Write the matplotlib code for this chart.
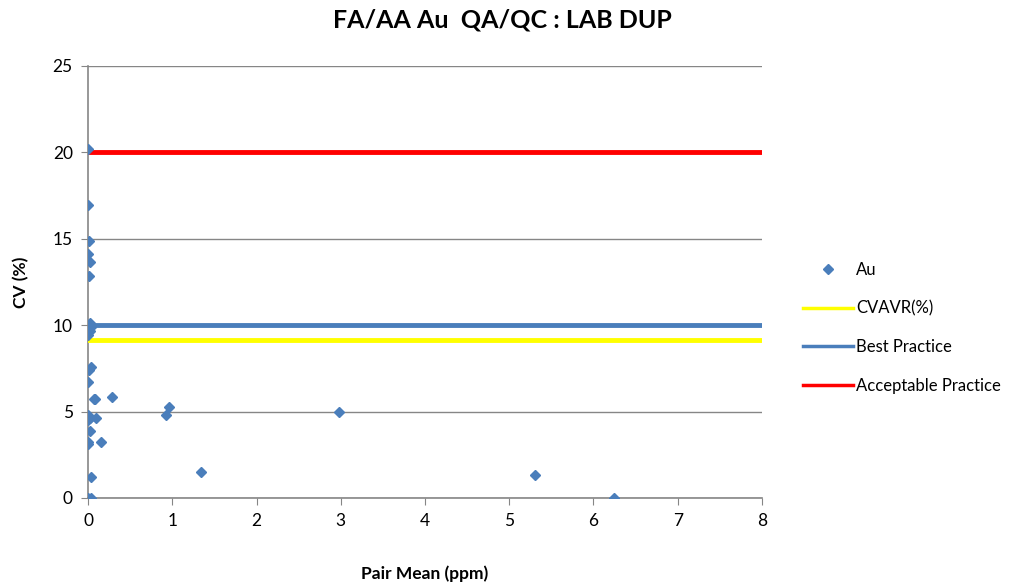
import matplotlib
matplotlib.use("Agg")
import matplotlib.pyplot as plt
from matplotlib.lines import Line2D

pair_mean = [0.00, 0.00, 0.01, 0.00, 0.02, 0.01, 0.02, 0.03, 0.02, 0.00,
             0.04, 0.01, 0.00, 0.08, 0.07, 0.28, 0.00, 0.02, 0.10, 0.00,
             0.02, 0.00, 0.00, 0.16, 0.04, 0.00, 0.04, 0.93, 0.965, 1.34,
             2.98, 5.31, 6.24]
cv_pct = [20.2, 16.97, 14.87, 14.14, 13.68, 12.85, 10.15, 9.92, 9.68, 9.43,
          7.56, 7.41, 6.71, 5.73, 5.75, 5.83, 4.80, 4.65, 4.65, 4.51,
          3.88, 3.26, 3.10, 3.26, 1.23, 0.0, 0.0, 4.80, 5.28, 1.52,
          4.99, 1.33, 0.0]
cvavr = 9.14
best_practice = 10.0
acceptable_practice = 20.0
x_range = [0, 8]

fig = plt.figure(figsize=(10.11, 5.84), dpi=100)
ax = fig.add_axes([88/1011, 86/584, (762-88)/1011, (498-66)/584])

ax.plot(pair_mean, cv_pct, linestyle="none", marker="D", markersize=5,
        color="#4a7ebb", label="Au", zorder=5)
ax.plot(x_range, [cvavr]*2, color="#ffff00", lw=3.5, label="CVAVR(%)", zorder=3)
ax.plot(x_range, [best_practice]*2, color="#4a7ebb", lw=3.5, label="Best Practice", zorder=3)
ax.plot(x_range, [acceptable_practice]*2, color="#ff0000", lw=3.5, label="Acceptable Practice", zorder=3)

ax.set_xlim(0, 8)
ax.set_ylim(0, 25)
ax.set_xticks(range(0, 9))
ax.set_yticks(range(0, 26, 5))
ax.grid(axis="y", color="#868686", lw=1)
ax.set_axisbelow(True)
for s in ["top", "right"]:
    ax.spines[s].set_visible(False)
for s in ["left", "bottom"]:
    ax.spines[s].set_color("#868686")
    ax.spines[s].set_linewidth(1.2)
ax.tick_params(colors="#868686", labelcolor="#000000", labelsize=12.5, length=5, pad=6)
for lab in ax.get_xticklabels() + ax.get_yticklabels():
    lab.set_fontfamily("Lato")

ax.set_xlabel("Pair Mean (ppm)", fontsize=12.5, fontweight="bold", family="Lato", labelpad=26)
ax.set_ylabel("CV (%)", fontsize=12.5, fontweight="bold", family="Lato", labelpad=17)
fig.text(0.497, 0.966, "FA/AA Au  QA/QC : LAB DUP", ha="center", va="center",
         fontsize=18, fontweight="bold", family="Lato")

handles = [Line2D([], [], ls="none", marker="D", markersize=5, color="#4a7ebb"),
           Line2D([], [], color="#ffff00", lw=2.5),
           Line2D([], [], color="#4a7ebb", lw=2.5),
           Line2D([], [], color="#ff0000", lw=2.5)]
labels = ["Au", "CVAVR(%)", "Best Practice", "Acceptable Practice"]
leg = fig.legend(handles, labels, loc="center left", bbox_to_anchor=(788/1011, 1 - 328/584),
                 frameon=False, prop={"family": "Lato", "size": 12}, handlelength=3.0,
                 handletextpad=0.2, labelspacing=1.35)

fig.savefig("out.png", dpi=100)
